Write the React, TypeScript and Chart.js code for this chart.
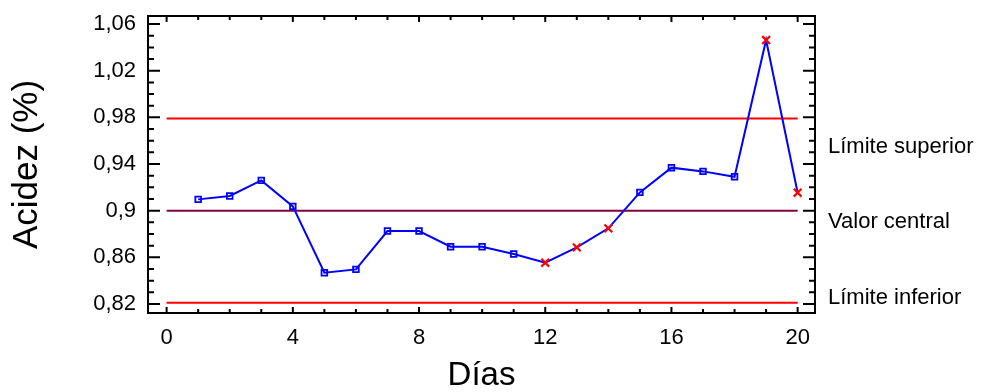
import React, { useEffect, useRef } from "react";
import { Chart, registerables } from "chart.js";

Chart.register(...registerables);

const days = [1, 2, 3, 4, 5, 6, 7, 8, 9, 10, 11, 12, 13, 14, 15, 16, 17, 18, 19, 20];
const acidez = [
  0.9097, 0.9126, 0.926, 0.9037, 0.8468, 0.8497, 0.8826, 0.8826, 0.8691, 0.8691,
  0.8629, 0.8554, 0.8686, 0.8849, 0.9157, 0.9369, 0.9337, 0.9291, 1.0463, 0.9154,
];
const flaggedDays = [12, 13, 14, 19, 20];
const limitSuperior = 0.979;
const valorCentral = 0.9;
const limiteInferior = 0.821;
const limitLabels = ["Límite superior", "Valor central", "Límite inferior"];
const xTickValues = [0, 4, 8, 12, 16, 20];
const yTickValues = [0.82, 0.86, 0.9, 0.94, 0.98, 1.02, 1.06];

const FONT = "'Liberation Sans', Arial, sans-serif";

const fmt = (v: number) => Number(v.toFixed(2)).toString().replace(".", ",");

const framePlugin = {
  id: "frame",
  afterDatasetsDraw(chart: any) {
    const { ctx, chartArea: a, scales } = chart;
    const xs = scales.x;
    const ys = scales.y;
    ctx.save();
    ctx.strokeStyle = "#000";
    ctx.lineWidth = 2;
    ctx.strokeRect(a.left, a.top, a.right - a.left, a.bottom - a.top);
    ctx.beginPath();
    for (let d = 0; d <= 20; d++) {
      const px = xs.getPixelForValue(d);
      const len = d % 4 === 0 ? 6 : 4;
      ctx.moveTo(px, a.bottom);
      ctx.lineTo(px, a.bottom - len);
      ctx.moveTo(px, a.top);
      ctx.lineTo(px, a.top + len);
    }
    for (let i = 0; i <= 24; i++) {
      const v = 0.82 + i * 0.01;
      const py = ys.getPixelForValue(v);
      const len = i % 4 === 0 ? 12 : 6;
      ctx.moveTo(a.left, py);
      ctx.lineTo(a.left + len, py);
      ctx.moveTo(a.right, py);
      ctx.lineTo(a.right - len, py);
    }
    ctx.stroke();

    // right-side labels
    ctx.fillStyle = "#000";
    ctx.font = `22px ${FONT}`;
    ctx.textAlign = "left";
    ctx.textBaseline = "middle";
    const base = ys.getPixelForValue(limiteInferior) - 5;
    const step = 75.5;
    limitLabels.forEach((t, i) => {
      ctx.fillText(t, a.right + 13, base - (limitLabels.length - 1 - i) * step);
    });
    ctx.restore();
  },
};

export default function App() {
  const ref = useRef<HTMLCanvasElement | null>(null);
  useEffect(() => {
    if (!ref.current) return;
    const isFlag = (c: any) => flaggedDays.includes(days[c.dataIndex]);
    const chart = new Chart(ref.current, {
      type: "line",
      data: {
        datasets: [
          {
            data: days.map((d, i) => ({ x: d, y: acidez[i] })),
            borderColor: "#0000ff",
            borderWidth: 2,
            pointStyle: (c: any) => (isFlag(c) ? "crossRot" : "rect"),
            pointRadius: (c: any) => (isFlag(c) ? 5.5 : 4),
            pointBorderColor: (c: any) => (isFlag(c) ? "#ff0000" : "#0000ff"),
            pointBackgroundColor: "rgba(0,0,0,0)",
            pointBorderWidth: (c: any) => (isFlag(c) ? 2.2 : 1.8),
            tension: 0,
          } as any,
          {
            data: [{ x: 0, y: limitSuperior }, { x: 20, y: limitSuperior }],
            borderColor: "#ff0000",
            borderWidth: 2,
            pointRadius: 0,
          },
          {
            data: [{ x: 0, y: valorCentral }, { x: 20, y: valorCentral }],
            borderColor: "#800040",
            borderWidth: 2,
            pointRadius: 0,
          },
          {
            data: [{ x: 0, y: limiteInferior }, { x: 20, y: limiteInferior }],
            borderColor: "#ff0000",
            borderWidth: 2,
            pointRadius: 0,
          },
        ],
      },
      options: {
        animation: false,
        responsive: true,
        maintainAspectRatio: false,
        layout: { padding: { top: 16, right: 175, left: 0, bottom: 0 } },
        plugins: { legend: { display: false }, tooltip: { enabled: false } },
        scales: {
          x: {
            type: "linear",
            min: -0.59,
            max: 20.55,
            grid: { display: false, drawTicks: false },
            border: { display: false },
            afterBuildTicks: (s: any) => {
              s.ticks = xTickValues.map((v) => ({ value: v }));
            },
            afterFit: (s: any) => {
              s.height = 79;
              s.paddingLeft = 0;
              s.paddingRight = 0;
            },
            ticks: {
              color: "#000",
              font: { size: 22, family: FONT },
              padding: 12,
              maxRotation: 0,
              autoSkip: false,
              callback: (v: any) => fmt(Number(v)),
            },
            title: {
              display: true,
              text: "Días",
              color: "#000",
              font: { size: 33, family: FONT, lineHeight: 1 },
              padding: { top: 0, bottom: 0 },
            },
          },
          y: {
            type: "linear",
            min: 0.8123,
            max: 1.0669,
            grid: { display: false, drawTicks: false },
            border: { display: false },
            afterBuildTicks: (s: any) => {
              s.ticks = yTickValues.map((v) => ({ value: v }));
            },
            afterFit: (s: any) => {
              s.width = 148;
              s.paddingTop = 0;
              s.paddingBottom = 0;
            },
            ticks: {
              color: "#000",
              font: { size: 22, family: FONT },
              padding: 12,
              autoSkip: false,
              callback: (v: any) => fmt(Number(v)),
            },
            title: {
              display: true,
              text: "Acidez (%)",
              color: "#000",
              font: { size: 35, family: FONT, lineHeight: 1.2 },
              padding: { top: 6, bottom: 6 },
            },
          },
        },
      },
      plugins: [framePlugin],
    });
    return () => chart.destroy();
  }, []);
  return (
    <div style={{ position: "absolute", left: 0, top: 0, width: 990, height: 392, background: "#fff" }}>
      <canvas ref={ref} />
    </div>
  );
}
